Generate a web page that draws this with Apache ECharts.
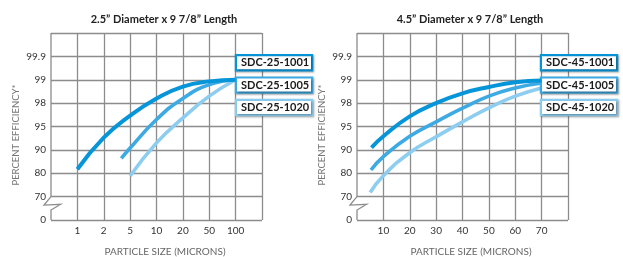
<!DOCTYPE html>
<html><head><meta charset="utf-8">
<script src="https://cdn.jsdelivr.net/npm/echarts@6/dist/echarts.min.js"></script>
<style>html,body{margin:0;padding:0;background:#fff}#c{width:623px;height:257px}</style>
</head><body><div id="c"></div>
<script>
// ---- data ----
const titles = ['2.5\u201D Diameter x 9 7/8\u201D Length', '4.5\u201D Diameter x 9 7/8\u201D Length'];
const yTicks = [0, 70, 80, 90, 95, 98, 99, 99.9];
const yTickLabels = ['0', '70', '80', '90', '95', '98', '99', '99.9'];
const xTicksLeft = [1, 2, 5, 10, 20, 50, 100];
const xTicksRight = [10, 20, 30, 40, 50, 60, 70];
const namesLeft = ['SDC-25-1001', 'SDC-25-1005', 'SDC-25-1020'];
const namesRight = ['SDC-45-1001', 'SDC-45-1005', 'SDC-45-1020'];

const left1001Size = [1, 2, 5, 10, 20, 50, 100];
const left1001Eff  = [81.7, 92.6, 96.4, 98.2, 98.71, 98.93, 99.0];
const left1005Size = [4, 5, 10, 20, 50, 100];
const left1005Eff  = [86.4, 90.4, 95.9, 98.2, 98.79, 99.0];
const left1020Size = [5, 10, 20, 50, 100];
const left1020Eff  = [78.8, 91.5, 96.1, 98.3, 99.0];

const right1001Size = [5.5, 10, 20, 30, 40, 50, 60, 70];
const right1001Eff  = [90.5, 92.9, 96.3, 98.0, 98.42, 98.69, 98.89, 98.97];
const right1005Size = [5.3, 10, 20, 30, 40, 50, 60, 70];
const right1005Eff  = [81.4, 87.1, 92.9, 95.6, 97.35, 98.3, 98.65, 98.86];
const right1020Size = [5, 10, 20, 30, 40, 50, 60, 70];
const right1020Eff  = [71.8, 78.9, 88.8, 92.8, 95.6, 97.4, 98.3, 98.65];

const colors = ['#0795d9', '#3eaae3', '#8ccdf0'];

// ---- scale helpers (piecewise axis mapping) ----
function piece(ticks, v, offset) {
  for (let i = 0; i < ticks.length - 1; i++) {
    if (v <= ticks[i + 1]) return offset + i + (v - ticks[i]) / (ticks[i + 1] - ticks[i]);
  }
  return offset + ticks.length - 1;
}
const yMap = v => piece(yTicks, v, 0);
const xMapLeft = v => piece(xTicksLeft, v, 1);
const build = (xs, ys, xm) => xs.map((x, i) => [xm(x), yMap(ys[i])]);

const font = 'Lato, "Open Sans", sans-serif';
const gridColor = '#8c8c8c';

function yAxis(gi) {
  return {
    type: 'value', gridIndex: gi, min: 0, max: 8, interval: 1,
    axisLine: {show: false}, axisTick: {show: false},
    axisLabel: {margin: 5, fontSize: 10, color: '#333', fontFamily: font,
      formatter: v => (v < yTickLabels.length ? yTickLabels[v] : '')},
    splitLine: {show: true, lineStyle: {color: gridColor, width: 1.3}},
    name: 'PERCENT EFFICIENCY*', nameLocation: 'middle', nameGap: 30, nameRotate: 90,
    nameTextStyle: {fontSize: 9.5, color: '#777', fontFamily: font, padding: [0, 17, 0, 0]}
  };
}
function xAxisBase(gi) {
  return {
    gridIndex: gi, type: 'value',
    axisLine: {show: false}, axisTick: {show: false},
    splitLine: {show: true, showMinLine: false, lineStyle: {color: gridColor, width: 1.3}},
    name: 'PARTICLE SIZE (MICRONS)', nameLocation: 'middle', nameGap: 27,
    nameTextStyle: {fontSize: 10, color: '#666', fontFamily: font, padding: [0, 0, 0, 17]}
  };
}
const xLeft = Object.assign(xAxisBase(0), {min: 0, max: 8, interval: 1,
  axisLabel: {margin: 6, fontSize: 10, color: '#333', fontFamily: font,
    formatter: v => (v >= 1 && v <= 7 ? String(xTicksLeft[v - 1]) : '')}});
const xRight = Object.assign(xAxisBase(1), {min: 0, max: 80, interval: 10,
  axisLabel: {margin: 6, fontSize: 10, color: '#333', fontFamily: font,
    formatter: v => (xTicksRight.indexOf(v) >= 0 ? String(v) : '')}});

function line(name, data, xi, ci) {
  return {type: 'line', name, xAxisIndex: xi, yAxisIndex: xi, data, smooth: 0.5,
    showSymbol: false, symbol: 'none', color: colors[ci], z: 5 - ci,
    lineStyle: {width: ci === 0 ? 4 : 3.6, color: colors[ci]}};
}
function legend(names, left) {
  return {
    orient: 'vertical', left: left, top: 54, padding: 0, itemGap: 5, itemWidth: 0, itemHeight: 0,
    icon: 'rect', selectedMode: false,
    data: names.map((n, i) => ({name: n, icon: 'rect', textStyle: {borderColor: colors[i]}})),
    textStyle: {fontSize: 11, fontWeight: 'bold', color: '#1a1a1a', fontFamily: font,
      width: 66, align: 'center', lineHeight: 12, padding: [1, 4, 0, 4],
      backgroundColor: '#fff', borderWidth: 2.2,
      shadowColor: 'rgba(0,0,0,0.35)', shadowBlur: 2, shadowOffsetX: 1, shadowOffsetY: 1}
  };
}

const chart = echarts.init(document.getElementById('c'), null, {renderer: 'canvas'});
chart.setOption({
  animation: false,
  title: [
    {text: titles[0], left: 159, top: 9, textAlign: 'center',
     textStyle: {fontSize: 11, fontWeight: 'bold', color: '#222', fontFamily: font}},
    {text: titles[1], left: 465, top: 9, textAlign: 'center',
     textStyle: {fontSize: 11, fontWeight: 'bold', color: '#222', fontFamily: font}}
  ],
  grid: [
    {left: 51, right: 361, top: 33, bottom: 37, containLabel: false, outerBoundsMode: 'none'},
    {left: 357, right: 55, top: 33, bottom: 37, containLabel: false, outerBoundsMode: 'none'}
  ],
  xAxis: [xLeft, xRight],
  yAxis: [yAxis(0), yAxis(1)],
  legend: [legend(namesLeft, 232), legend(namesRight, 537)],
  series: [
    line(namesLeft[2], build(left1020Size, left1020Eff, xMapLeft), 0, 2),
    line(namesLeft[1], build(left1005Size, left1005Eff, xMapLeft), 0, 1),
    line(namesLeft[0], build(left1001Size, left1001Eff, xMapLeft), 0, 0),
    line(namesRight[2], build(right1020Size, right1020Eff, v => v), 1, 2),
    line(namesRight[1], build(right1005Size, right1005Eff, v => v), 1, 1),
    line(namesRight[0], build(right1001Size, right1001Eff, v => v), 1, 0)
  ]
});

// left border with axis break symbol
const g = [];
[0, 1].forEach(gi => {
  const top = chart.convertToPixel({gridIndex: gi}, [0, 8]);
  const r70 = chart.convertToPixel({gridIndex: gi}, [0, 1]);
  const bot = chart.convertToPixel({gridIndex: gi}, [0, 0]);
  const X = top[0];
  g.push({type: 'polyline', z: 10, shape: {points: [
    [X, top[1]], [X, r70[1]], [X - 7, r70[1] + 8.4], [X + 9.7, r70[1] + 7.7],
    [X, r70[1] + 13.4], [X, bot[1]]]},
    style: {stroke: gridColor, lineWidth: 1.3, fill: null}});
});
chart.setOption({graphic: g});
</script></body></html>
